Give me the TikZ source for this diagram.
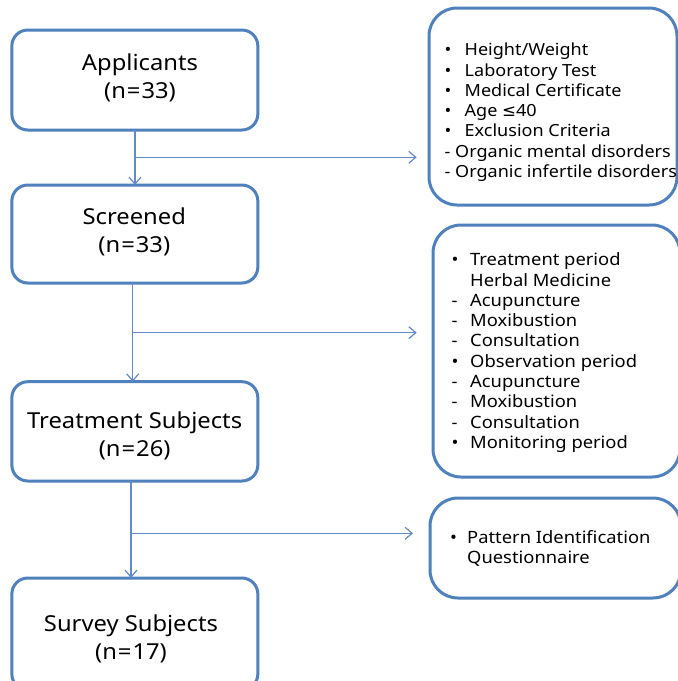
\documentclass[tikz,border=0pt]{standalone}
\usepackage{fontspec}
\setmainfont{Noto Sans}[FakeStretch=1.08]
\newfontfamily\djv{DejaVu Sans}
\usetikzlibrary{arrows.meta}
\definecolor{boxblue}{RGB}{79,129,189}
\definecolor{lineblue}{RGB}{98,138,202}
\newcommand{\eqsp}{\kern1pt=\kern1pt}
\begin{document}
\begin{tikzpicture}[x=1pt,y=-1pt,
  lbox/.style={draw=boxblue, line width=3pt, rounded corners=16pt, outer sep=0pt, inner sep=0pt, minimum width=246pt},
  rbox/.style={draw=boxblue, line width=3pt, rounded corners=28pt, outer sep=0pt, inner sep=0pt},
  ltext/.style={anchor=base, inner sep=0pt, font=\fontsize{22}{28}\selectfont},
  rtext/.style={anchor=base west, inner sep=0pt, font=\fontsize{17}{20.3}\selectfont},
  conn/.style={draw=lineblue, line width=1.2pt, -{Straight Barb[length=7pt,width=12pt]}}]
\useasboundingbox (0,0) rectangle (678,681);
\clip (0,0) rectangle (678,681);
\fill[white] (0,0) rectangle (678,681);
% left boxes
\node[lbox, minimum height=100pt] (b1) at (134.85,80) {};
\node[lbox, minimum height=98pt] (b2) at (134.85,234) {};
\node[lbox, minimum height=99.3pt] (b3) at (134.85,431.35) {};
\node[lbox, minimum height=112pt] (b4) at (134.85,634) {};
% right boxes
\node[rbox, minimum width=248pt, minimum height=197pt] (r1) at (553,106.5) {};
\node[rbox, minimum width=247pt, minimum height=252pt] (r2) at (556.5,351) {};
\node[rbox, minimum width=251pt, minimum height=100pt] (r3) at (555.5,548) {};
% left texts
\node[ltext] (t1) at (140,70.7) {\begin{tabular}[t]{@{}c@{}}Applicants\\(n\eqsp33)\end{tabular}};
\node[ltext] (t2) at (134.3,224) {\begin{tabular}[t]{@{}c@{}}Screened\\(n\eqsp33)\end{tabular}};
\node[ltext] (t3) at (134.7,428.3) {\begin{tabular}[t]{@{}c@{}}Treatment Subjects\\(n\eqsp26)\end{tabular}};
\node[ltext] (t4) at (131,631.7) {\begin{tabular}[t]{@{}c@{}}Survey Subjects\\(n\eqsp17)\end{tabular}};
% right texts
\node[rtext, font=\fontsize{16.7}{20.3}\selectfont] (s1) at (444.5,55.7) {\begin{tabular}[t]{@{}p{20pt}@{}l@{}}
•&Height/Weight\\
•&Laboratory Test\\
•&Medical Certificate\\
•&Age {\djv ≤}40\\
•&Exclusion Criteria\\
\multicolumn{2}{@{}l@{}}{- Organic mental disorders}\\
\multicolumn{2}{@{}l@{}}{- Organic infertile disorders}
\end{tabular}};
\node[rtext] (s2) at (451.5,265.7) {\begin{tabular}[t]{@{}p{18.5pt}@{}l@{}}
•&Treatment period\\
&Herbal Medicine\\
-&Acupuncture\\
-&Moxibustion\\
-&Consultation\\
•&Observation period\\
-&Acupuncture\\
-&Moxibustion\\
-&Consultation\\
•&Monitoring period
\end{tabular}};
\node[rtext] (s3) at (450,543.3) {\begin{tabular}[t]{@{}p{17pt}@{}l@{}}
•&Pattern Identification\\
&Questionnaire
\end{tabular}};
% connectors
\draw[conn] ([xshift=0.15pt]b1.south) -- ([xshift=0.15pt]b2.north);
\draw[conn] ([xshift=-2.15pt]b2.south) -- ([xshift=-2.15pt]b3.north);
\draw[conn] ([xshift=-3.85pt]b3.south) -- ([xshift=-3.85pt]b4.north);
\coordinate (j1) at (135,157.3);
\coordinate (j2) at (132.7,332.7);
\coordinate (j3) at (131,533.3);
\draw[conn, shorten >=12.3pt] (j1) -- (j1 -| r1.west);
\draw[conn, shorten >=16.3pt] (j2) -- (j2 -| r2.west);
\draw[conn, shorten >=17pt] (j3) -- (j3 -| r3.west);
\end{tikzpicture}
\end{document}
